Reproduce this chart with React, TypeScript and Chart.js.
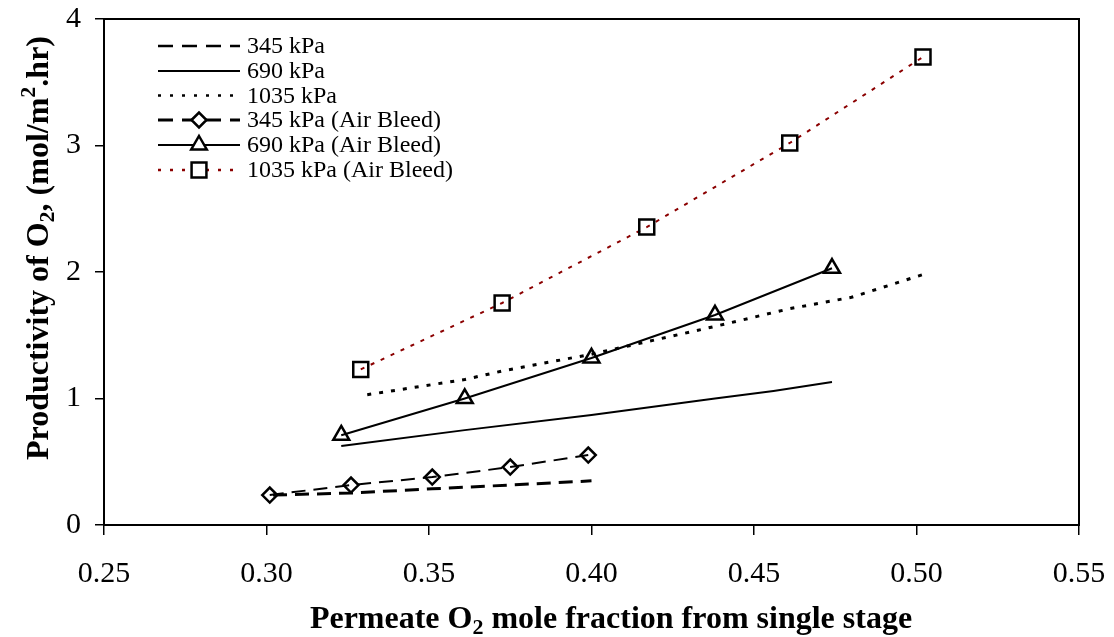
import React, { useEffect, useRef } from "react";
import { Chart, registerables } from "chart.js";

Chart.register(...registerables);

// Permeate O2 mole fraction (x) and O2 productivity, mol/m2.hr (y)
const press345X = [0.302, 0.326, 0.351, 0.375, 0.4];
const press345Y = [0.237, 0.253, 0.286, 0.316, 0.349];
const press690X = [0.323, 0.361, 0.4, 0.438, 0.456, 0.474];
const press690Y = [0.625, 0.75, 0.87, 1.0, 1.06, 1.13];
const press1035X = [0.331, 0.361, 0.373, 0.4, 0.438, 0.461, 0.48, 0.502];
const press1035Y = [1.03, 1.15, 1.22, 1.35, 1.57, 1.71, 1.8, 1.98];
const bleed345X = [0.301, 0.326, 0.351, 0.375, 0.399];
const bleed345Y = [0.237, 0.316, 0.379, 0.458, 0.553];
const bleed690X = [0.323, 0.361, 0.4, 0.438, 0.474];
const bleed690Y = [0.71, 1.0, 1.32, 1.66, 2.03];
const bleed1035X = [0.329, 0.3725, 0.417, 0.461, 0.502];
const bleed1035Y = [1.23, 1.755, 2.355, 3.02, 3.7];

const seriesLabels = [
  "345 kPa",
  "690 kPa",
  "1035 kPa",
  "345 kPa (Air Bleed)",
  "690 kPa (Air Bleed)",
  "1035 kPa (Air Bleed)",
];

const xTicks = [0.25, 0.3, 0.35, 0.4, 0.45, 0.5, 0.55];
const yTicks = [0, 1, 2, 3, 4];

const SERIF = "'Liberation Serif', 'Times New Roman', serif";
const DARK_RED = "#8b0000";

const pts = (xs: number[], ys: number[]) => xs.map((x, i) => ({ x, y: ys[i] }));

type Seg = { t: string; mode?: "sub" | "sup" };

// draws a bold line of text with subscript / superscript pieces, centred on (cx, cy)
function drawRich(
  ctx: CanvasRenderingContext2D,
  segs: Seg[],
  size: number,
  cx: number,
  cy: number,
  rotate: boolean
) {
  const fontFor = (s: Seg) =>
    `bold ${s.mode ? Math.round(size * 0.7) : size}px ${SERIF}`;
  let total = 0;
  const widths = segs.map((s) => {
    ctx.font = fontFor(s);
    const w = ctx.measureText(s.t).width;
    total += w;
    return w;
  });
  ctx.save();
  ctx.translate(cx, cy);
  if (rotate) ctx.rotate(-Math.PI / 2);
  ctx.fillStyle = "#000";
  ctx.textBaseline = "alphabetic";
  ctx.textAlign = "left";
  let x = -total / 2;
  const base = size * 0.33;
  segs.forEach((s, i) => {
    ctx.font = fontFor(s);
    let dy = 0;
    if (s.mode === "sub") dy = size * 0.2;
    if (s.mode === "sup") dy = -size * 0.38;
    ctx.fillText(s.t, x, base + dy);
    x += widths[i];
  });
  ctx.restore();
}

type LegendItem = {
  label: string;
  color: string;
  width: number;
  dash: number[];
  marker?: "rectRot" | "triangle" | "rect";
  radius?: number;
};

const legendItems: LegendItem[] = [
  { label: seriesLabels[0], color: "#000", width: 2.5, dash: [15, 9] },
  { label: seriesLabels[1], color: "#000", width: 2, dash: [] },
  { label: seriesLabels[2], color: "#000", width: 2.5, dash: [3, 9] },
  { label: seriesLabels[3], color: "#000", width: 3, dash: [15, 9], marker: "rectRot", radius: 7.5 },
  { label: seriesLabels[4], color: "#000", width: 2, dash: [], marker: "triangle", radius: 9 },
  { label: seriesLabels[5], color: DARK_RED, width: 2.5, dash: [3, 9], marker: "rect", radius: 10.5 },
];
const legendRowY = [46, 71, 95.5, 120, 145, 170];

// marker shapes for the legend rows
function markerDraw(ctx: CanvasRenderingContext2D, style: string, r: number, x: number, y: number) {
  ctx.beginPath();
  if (style === "rect") {
    const s = Math.SQRT1_2 * r;
    ctx.rect(x - s, y - s, 2 * s, 2 * s);
  } else if (style === "rectRot") {
    ctx.moveTo(x - r, y);
    ctx.lineTo(x, y - r);
    ctx.lineTo(x + r, y);
    ctx.lineTo(x, y + r);
    ctx.closePath();
  } else if (style === "triangle") {
    ctx.moveTo(x, y - r);
    ctx.lineTo(x + r * 0.866, y + r * 0.5);
    ctx.lineTo(x - r * 0.866, y + r * 0.5);
    ctx.closePath();
  }
  ctx.fill();
  ctx.stroke();
}

const decorPlugin = {
  id: "decor",
  afterDraw(chart: any) {
    const ctx: CanvasRenderingContext2D = chart.ctx;
    const a = chart.chartArea;

    // plot frame
    ctx.save();
    ctx.strokeStyle = "#000";
    ctx.lineWidth = 2;
    ctx.setLineDash([]);
    ctx.strokeRect(a.left, a.top, a.right - a.left, a.bottom - a.top);
    ctx.restore();

    // legend
    const x0 = 158;
    const x1 = 240;
    legendItems.forEach((it, i) => {
      const y = legendRowY[i];
      ctx.save();
      ctx.strokeStyle = it.color;
      ctx.lineWidth = it.width;
      ctx.setLineDash(it.dash);
      ctx.beginPath();
      ctx.moveTo(x0, y);
      ctx.lineTo(x1, y);
      ctx.stroke();
      ctx.restore();
      if (it.marker) {
        ctx.save();
        ctx.setLineDash([]);
        ctx.fillStyle = "#fff";
        ctx.strokeStyle = "#000";
        ctx.lineWidth = 2.5;
        markerDraw(ctx, it.marker, it.radius || 8, 199, y);
        ctx.restore();
      }
      ctx.save();
      ctx.fillStyle = "#000";
      ctx.font = `24px ${SERIF}`;
      ctx.textBaseline = "middle";
      ctx.textAlign = "left";
      ctx.fillText(it.label, 247, y + 1);
      ctx.restore();
    });

    // axis titles
    drawRich(
      ctx,
      [
        { t: "Productivity of O" },
        { t: "2", mode: "sub" },
        { t: ", (mol/m" },
        { t: "2", mode: "sup" },
        { t: ".hr)" },
      ],
      32,
      37,
      248,
      true
    );
    drawRich(
      ctx,
      [
        { t: "Permeate O" },
        { t: "2", mode: "sub" },
        { t: " mole fraction from single stage" },
      ],
      32,
      611,
      617,
      false
    );
  },
};

export default function App() {
  const ref = useRef<HTMLCanvasElement | null>(null);

  useEffect(() => {
    document.body.style.margin = "0";
    if (!ref.current) return;
    const common = { tension: 0, fill: false, showLine: true };
    const chart = new Chart(ref.current, {
      type: "scatter",
      data: {
        datasets: [
          {
            ...common,
            label: seriesLabels[0],
            data: pts(press345X, press345Y),
            borderColor: "#000",
            borderWidth: 3,
            borderDash: [14, 8],
            pointRadius: 0,
          },
          {
            ...common,
            label: seriesLabels[1],
            data: pts(press690X, press690Y),
            borderColor: "#000",
            borderWidth: 2,
            pointRadius: 0,
          },
          {
            ...common,
            label: seriesLabels[2],
            data: pts(press1035X, press1035Y),
            borderColor: "#000",
            borderWidth: 3,
            borderDash: [4, 8],
            pointRadius: 0,
          },
          {
            ...common,
            label: seriesLabels[3],
            data: pts(bleed345X, bleed345Y),
            borderColor: "#000",
            borderWidth: 2,
            borderDash: [14, 8],
            pointStyle: "rectRot",
            pointRadius: 7.5,
            pointBorderWidth: 2.5,
            pointBorderColor: "#000",
            pointBackgroundColor: "rgba(0,0,0,0)",
          },
          {
            ...common,
            label: seriesLabels[4],
            data: pts(bleed690X, bleed690Y),
            borderColor: "#000",
            borderWidth: 2,
            pointStyle: "triangle",
            pointRadius: 9.2,
            pointBorderWidth: 2.5,
            pointBorderColor: "#000",
            pointBackgroundColor: "rgba(0,0,0,0)",
          },
          {
            ...common,
            label: seriesLabels[5],
            data: pts(bleed1035X, bleed1035Y),
            borderColor: DARK_RED,
            borderWidth: 2,
            borderDash: [4, 7],
            pointStyle: "rect",
            pointRadius: 10.6,
            pointBorderWidth: 2.5,
            pointBorderColor: "#000",
            pointBackgroundColor: "rgba(0,0,0,0)",
          },
        ],
      },
      options: {
        animation: false,
        responsive: true,
        maintainAspectRatio: false,
        layout: { padding: { top: 19, right: 35, left: 0, bottom: 0 } },
        plugins: {
          legend: { display: false },
          tooltip: { enabled: false },
          title: { display: false },
        },
        scales: {
          x: {
            type: "linear",
            min: 0.25,
            max: 0.55,
            afterBuildTicks: (s: any) => {
              s.ticks = xTicks.map((v) => ({ value: v }));
            },
            afterFit: (s: any) => {
              s.height = 112;
              s.paddingLeft = 0;
              s.paddingRight = 0;
            },
            ticks: {
              callback: (v: any) => Number(v).toFixed(2),
              color: "#000",
              font: { family: SERIF, size: 30 },
              padding: 21,
              maxRotation: 0,
              autoSkip: false,
            },
            grid: {
              drawOnChartArea: false,
              drawTicks: true,
              tickLength: 10,
              color: "#000",
              lineWidth: 1.5,
            },
            border: { display: true, color: "#000", width: 2 },
            title: { display: false },
          },
          y: {
            type: "linear",
            min: 0,
            max: 4,
            afterBuildTicks: (s: any) => {
              s.ticks = yTicks.map((v) => ({ value: v }));
            },
            afterFit: (s: any) => {
              s.width = 104;
              s.paddingTop = 0;
              s.paddingBottom = 0;
            },
            ticks: {
              callback: (v: any) => String(v),
              color: "#000",
              font: { family: SERIF, size: 30 },
              padding: 14,
              autoSkip: false,
            },
            grid: {
              drawOnChartArea: false,
              drawTicks: true,
              tickLength: 9,
              color: "#000",
              lineWidth: 1.5,
            },
            border: { display: true, color: "#000", width: 2 },
            title: { display: false },
          },
        },
      },
      plugins: [decorPlugin],
    });
    return () => chart.destroy();
  }, []);

  return (
    <div style={{ width: 1114, height: 637, position: "relative", background: "#fff" }}>
      <canvas ref={ref} />
    </div>
  );
}
